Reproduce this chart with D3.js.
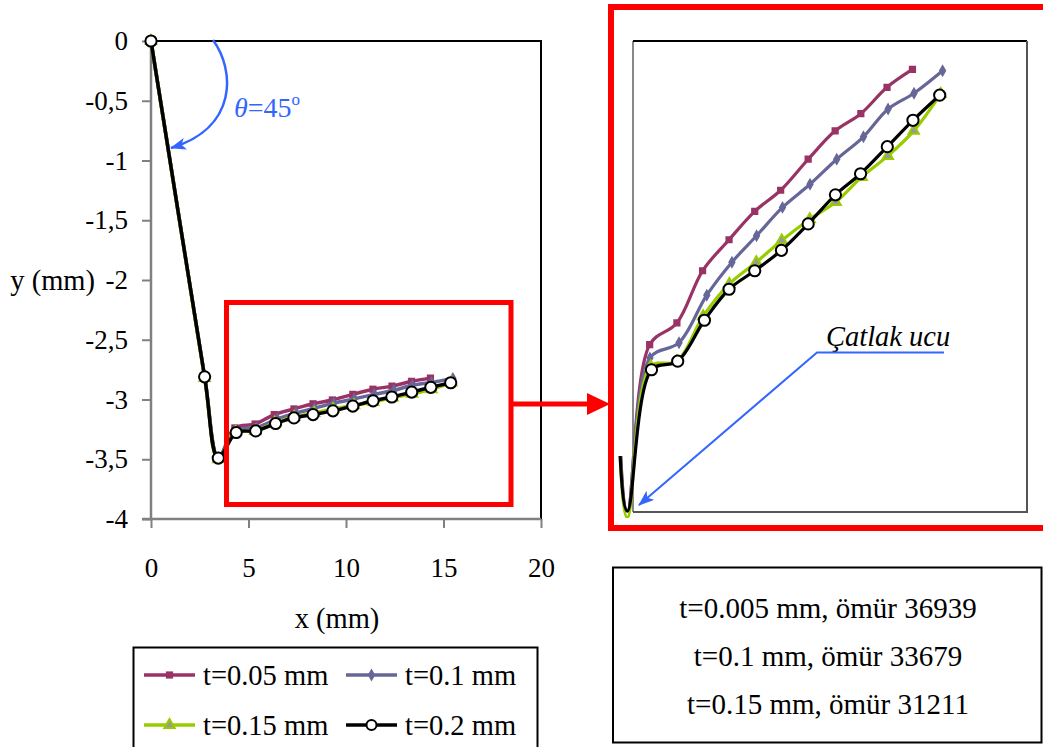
<!DOCTYPE html>
<html>
<head>
<meta charset="utf-8">
<script src="https://cdn.jsdelivr.net/npm/d3@7"></script>
<style>
  body { margin: 0; background: #fff; }
  svg { display: block; }
  text { font-family: "Liberation Serif", "Times New Roman", serif; fill: #000; }
</style>
</head>
<body>
<svg id="chart" width="1043" height="747"></svg>
<script>
// series (x, y in mm)
const names = ["t=0.05 mm", "t=0.1 mm", "t=0.15 mm", "t=0.2 mm"];
const colors = ["#993366", "#666699", "#99cc00", "#000000"];
const shapes = ["square", "diamond", "triangle", "circle"];

const x05 = [0, 2.75, 3.45, 4.30, 5.34, 6.32, 7.33, 8.31, 9.30, 10.35, 11.38, 12.36, 13.36, 14.33];
const y05 = [0, -2.81, -3.49, -3.238, -3.205, -3.126, -3.079, -3.036, -3.004, -2.957, -2.914, -2.888, -2.848, -2.821];

const x10 = [0, 2.75, 3.45, 4.31, 5.42, 6.48, 7.44, 8.38, 9.37, 10.42, 11.44, 12.46, 13.40, 14.39, 15.48];
const y10 = [0, -2.81, -3.49, -3.258, -3.235, -3.163, -3.113, -3.073, -3.030, -2.995, -2.957, -2.923, -2.881, -2.857, -2.823];

const x15 = [0, 2.75, 3.45, 4.34, 5.34, 6.34, 7.34, 8.37, 9.34, 10.41, 11.40, 12.39, 13.39, 14.38, 15.41];
const y15 = [0, -2.82, -3.50, -3.271, -3.263, -3.195, -3.146, -3.113, -3.080, -3.048, -3.022, -2.984, -2.952, -2.914, -2.858];

const x20 = [0, 2.75, 3.45, 4.37, 5.37, 6.39, 7.33, 8.31, 9.33, 10.35, 11.39, 12.35, 13.37, 14.35, 15.37];
const y20 = [0, -2.81, -3.49, -3.276, -3.263, -3.201, -3.154, -3.126, -3.095, -3.055, -3.011, -2.979, -2.938, -2.898, -2.860];

const xTicks = [0, 5, 10, 15, 20];
const yTicks = [0, -0.5, -1, -1.5, -2, -2.5, -3, -3.5, -4];

const lifeLines = ["t=0.005 mm, ömür 36939", "t=0.1 mm, ömür 33679", "t=0.15 mm, ömür 31211"];

const series = names.map((n, i) => {
  const xs = [x05, x10, x15, x20][i], ys = [y05, y10, y15, y20][i];
  return { name: n, color: colors[i], shape: shapes[i], pts: xs.map((x, j) => [x, ys[j]]) };
});

const svg = d3.select("#chart");
const blue = "#3366ff";

const defs = svg.append("defs");
defs.append("marker")
    .attr("id", "barrow")
    .attr("markerUnits", "userSpaceOnUse")
    .attr("viewBox", "0 0 16 12")
    .attr("markerWidth", 16).attr("markerHeight", 12)
    .attr("refX", 15).attr("refY", 6)
    .attr("orient", "auto")
  .append("path")
    .attr("d", "M0,0 L16,6 L0,12 L4,6 Z")
    .attr("fill", blue);

function marker(g, shape, color, cx, cy, big) {
  if (shape === "circle") {
    g.append("circle").attr("cx", cx).attr("cy", cy).attr("r", big ? 5.6 : 5)
      .attr("fill", "#fff").attr("stroke", "#000").attr("stroke-width", 2);
    return;
  }
  const sym = { square: d3.symbolSquare, diamond: d3.symbolDiamond, triangle: d3.symbolTriangle }[shape];
  const size = { square: 52, diamond: 48, triangle: 46 }[shape];
  g.append("path")
    .attr("d", d3.symbol(sym, size)())
    .attr("transform", `translate(${cx},${cy})`)
    .attr("fill", shape === "triangle" ? "#999" : color)
    .attr("stroke", color)
    .attr("stroke-width", shape === "triangle" ? 2 : 0);
}

// skip = how many leading points get no marker (inset hides the crack tip ones)
function drawSeries(g, xs, ys, width, skip) {
  const line = d3.line()
    .x(d => xs(d[0]))
    .y(d => ys(d[1]))
    .curve(d3.curveCatmullRom.alpha(0.5));
  series.forEach(s => {
    g.append("path")
      .attr("d", line(s.pts))
      .attr("fill", "none")
      .attr("stroke", s.color)
      .attr("stroke-width", width)
      .attr("stroke-linejoin", "round");
    s.pts.slice(skip).forEach(p => marker(g, s.shape, s.color, xs(p[0]), ys(p[1]), true));
  });
}

// ---------- main chart ----------
const x = d3.scaleLinear().domain([0, 20]).range([151, 541]);
const y = d3.scaleLinear().domain([-4, 0]).range([519, 41]);

const main = svg.append("g");

// plot border (top/right)
main.append("path")
  .attr("d", `M${x(0)},${y(0)} H${x(20)} V${y(-4)}`)
  .attr("fill", "none").attr("stroke", "#000").attr("stroke-width", 2);

const yAxis = main.append("g")
  .attr("transform", `translate(${x(0)},0)`)
  .call(d3.axisLeft(y).tickValues(yTicks).tickSize(9).tickPadding(14)
    .tickFormat(d => String(d).replace(".", ",")));
const xAxis = main.append("g")
  .attr("transform", `translate(0,${y(-4)})`)
  .call(d3.axisBottom(x).tickValues(xTicks).tickSize(9).tickPadding(30));

[xAxis, yAxis].forEach(a => {
  a.select(".domain").attr("stroke", "#808080").attr("stroke-width", 2.5);
  a.selectAll(".tick line").attr("stroke", "#808080").attr("stroke-width", 2);
  a.selectAll(".tick text").attr("font-size", 27).attr("fill", "#000")
    .style("font-family", '"Liberation Serif", "Times New Roman", serif');
});
yAxis.select(".domain").attr("d", `M0,${y(0)}V${y(-4)}`);
xAxis.select(".domain").attr("d", `M${x(0) - 9},0H${x(20)}`);

main.append("text").attr("x", 95).attr("y", y(-2)).attr("dy", "0.35em")
  .attr("text-anchor", "end").attr("font-size", 28.5).text("y (mm)");
main.append("text").attr("x", 337).attr("y", 628)
  .attr("text-anchor", "middle").attr("font-size", 28.5).text("x (mm)");

drawSeries(main.append("g"), x, y, 3.5, 0);

// angle annotation
main.append("path")
  .attr("d", "M213,40 C235,70 238,128 171,148")
  .attr("fill", "none").attr("stroke", blue).attr("stroke-width", 2.5)
  .attr("marker-end", "url(#barrow)");
const th = main.append("text").attr("x", 234).attr("y", 117).attr("font-size", 28).attr("fill", blue);
th.append("tspan").attr("font-style", "italic").attr("fill", blue).text("θ");
th.append("tspan").attr("fill", blue).text("=45");
th.append("tspan").attr("fill", blue).attr("font-size", 17).attr("dy", -12).text("o");

// zoom box and arrow
main.append("rect").attr("x", 226.5).attr("y", 302.5).attr("width", 284.5).attr("height", 202)
  .attr("fill", "none").attr("stroke", "#ff0000").attr("stroke-width", 5);
main.append("line").attr("x1", 511).attr("x2", 592).attr("y1", 404).attr("y2", 404)
  .attr("stroke", "#ff0000").attr("stroke-width", 5);
main.append("path").attr("d", "M587,393 L610,404 L587,415 Z").attr("fill", "#ff0000");

// legend
const leg = svg.append("g");
leg.append("rect").attr("x", 133.5).attr("y", 647.5).attr("width", 404).attr("height", 120)
  .attr("fill", "#fff").attr("stroke", "#000").attr("stroke-width", 2);
series.forEach((s, i) => {
  const lx = i % 2 === 0 ? 144 : 346;
  const ly = i < 2 ? 675 : 725;
  leg.append("line").attr("x1", lx).attr("x2", lx + 51).attr("y1", ly).attr("y2", ly)
    .attr("stroke", s.color).attr("stroke-width", 3.5);
  marker(leg, s.shape, s.color, lx + 25.5, ly, false);
  leg.append("text").attr("x", lx + 59).attr("y", ly).attr("dy", "0.35em")
    .attr("font-size", 28.5).text(s.name);
});

// ---------- inset (zoomed copy) ----------
const xi = d3.scaleLinear().domain([0, 20]).range([537, 1061]);
const yi = d3.scaleLinear().domain([-3.5, -2.75]).range([517.6, 22.6]);

const inset = svg.append("g");
inset.append("rect").attr("x", 611).attr("y", 7).attr("width", 445).attr("height", 521)
  .attr("fill", "#fff").attr("stroke", "#ff0000").attr("stroke-width", 6);

const clip = defs.append("clipPath").attr("id", "insetClip");
clip.append("rect").attr("x", 633).attr("y", 41).attr("width", 394).attr("height", 477);
clip.append("rect").attr("x", 618).attr("y", 456).attr("width", 16).attr("height", 62);

inset.append("path").attr("d", "M633,512 V41").attr("stroke", "#888").attr("stroke-width", 2).attr("fill", "none");
inset.append("path").attr("d", "M633,41 H1027").attr("stroke", "#000").attr("stroke-width", 2).attr("fill", "none");
inset.append("path").attr("d", "M1027,41 V512 H633").attr("stroke", "#555").attr("stroke-width", 2).attr("fill", "none");

drawSeries(inset.append("g").attr("clip-path", "url(#insetClip)"), xi, yi, 3.2, 3);

// crack tip label
inset.append("text").attr("x", 826).attr("y", 346).attr("font-size", 28.5)
  .attr("font-style", "italic").attr("fill", blue).text("Çatlak ucu");
inset.append("path").attr("d", "M944,352.5 H817 L639,505")
  .attr("fill", "none").attr("stroke", blue).attr("stroke-width", 2)
  .attr("marker-end", "url(#barrow)");

// ---------- life box ----------
const box = svg.append("g");
box.append("rect").attr("x", 613).attr("y", 567.5).attr("width", 428.5).attr("height", 175)
  .attr("fill", "#fff").attr("stroke", "#000").attr("stroke-width", 2);
lifeLines.forEach((t, i) => {
  box.append("text").attr("x", 828).attr("y", 618 + i * 48)
    .attr("text-anchor", "middle").attr("font-size", 29).text(t);
});
</script>
</body>
</html>
